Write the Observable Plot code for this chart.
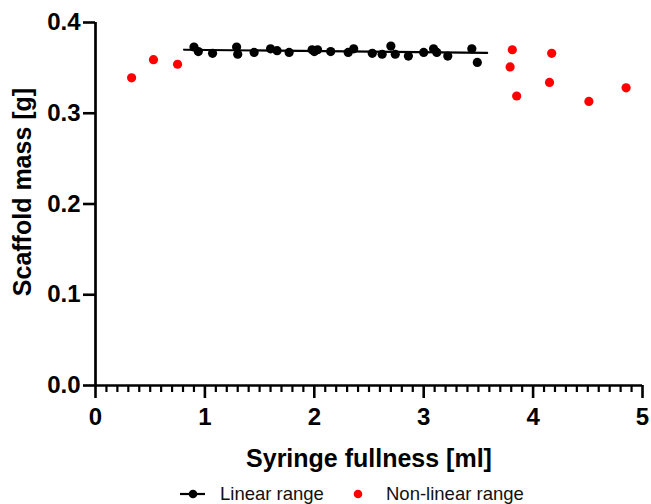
<!DOCTYPE html>
<html>
<head>
<meta charset="utf-8">
<script src="https://cdn.jsdelivr.net/npm/d3@7"></script>
<script src="https://cdn.jsdelivr.net/npm/@observablehq/plot@0.6"></script>
<style>
  html, body { margin: 0; padding: 0; background: white; }
  #chart { width: 651px; }
  #legend { position: relative; width: 651px; height: 26px; font-family: 'Liberation Sans', Arial, sans-serif; font-size: 18.5px; color: #111; }
  #legend .item { position: absolute; top: 0; height: 26px; line-height: 26px; white-space: nowrap; }
  #legend svg { position: absolute; top: 0; }
</style>
</head>
<body>
<div id="chart"></div>
<div id="legend"></div>
<script>
// ---- Data ----
// Linear range (black)
const linX = [0.90, 0.94, 1.07, 1.29, 1.30, 1.45, 1.60, 1.66, 1.77, 1.98, 2.00, 2.03, 2.15, 2.31, 2.36, 2.53, 2.62, 2.70, 2.74, 2.86, 3.00, 3.09, 3.12, 3.22, 3.44, 3.49];
const linY = [0.373, 0.368, 0.366, 0.373, 0.365, 0.367, 0.371, 0.369, 0.367, 0.370, 0.368, 0.370, 0.368, 0.367, 0.371, 0.366, 0.365, 0.374, 0.365, 0.363, 0.367, 0.371, 0.367, 0.363, 0.371, 0.356];
// Non-linear range (red)
const nonX = [0.33, 0.53, 0.75, 3.79, 3.81, 3.85, 4.15, 4.17, 4.51, 4.85];
const nonY = [0.339, 0.359, 0.354, 0.351, 0.370, 0.319, 0.334, 0.366, 0.313, 0.328];
// Fitted line (endpoints)
const fitX = [0.81, 3.58];
const fitY = [0.370, 0.3665];
// Ticks and labels
const xMajorTicks = [0, 1, 2, 3, 4, 5];
const yTicks = [0, 0.1, 0.2, 0.3, 0.4];
const xTitle = "Syringe fullness [ml]";
const yTitle = "Scaffold mass [g]";
const seriesNames = ["Linear range", "Non-linear range"];
const seriesColors = ["black", "#ff0000"];

const xMinorTicks = d3.range(0, 50).map(i => i / 10).filter(v => !xMajorTicks.includes(v));
const linData = linX.map((x, i) => ({x, y: linY[i]}));
const nonData = nonX.map((x, i) => ({x, y: nonY[i]}));
const fitData = fitX.map((x, i) => ({x, y: fitY[i]}));

const chart = Plot.plot({
  width: 651,
  height: 478,
  marginLeft: 95,
  marginRight: 9,
  marginTop: 22,
  marginBottom: 93,
  x: {domain: [0, 5], axis: null},
  y: {domain: [0, 0.4], axis: null},
  style: {fontFamily: "'Liberation Sans', Arial, sans-serif", fontWeight: "bold", fontSize: "24px", color: "black", background: "white"},
  marks: [
    Plot.axisX(xMinorTicks, {tickSize: 7, strokeWidth: 2.2, tickFormat: null, label: null, text: null}),
    Plot.axisX(xMajorTicks, {tickSize: 13, tickPadding: 9, strokeWidth: 2.6, tickFormat: d3.format("d"), label: null}),
    Plot.axisY(yTicks, {tickSize: 12, tickPadding: 3, strokeWidth: 2.6, tickFormat: d3.format(".1f"), label: null}),
    Plot.ruleY([0], {x1: 0, x2: 5, strokeWidth: 2.7}),
    Plot.ruleX([0], {y1: 0, y2: 0.4, strokeWidth: 2.7}),
    Plot.line(fitData, {x: "x", y: "y", stroke: seriesColors[0], strokeWidth: 2.2}),
    Plot.dot(linData, {x: "x", y: "y", r: 4.6, fill: seriesColors[0]}),
    Plot.dot(nonData, {x: "x", y: "y", r: 4.6, fill: seriesColors[1]}),
    Plot.text([xTitle], {frameAnchor: "bottom", dy: 73, textAnchor: "middle", lineAnchor: "middle", fontSize: 25, fontWeight: "bold"}),
    Plot.text([yTitle], {frameAnchor: "left", dx: -73, dy: -12, rotate: -90, textAnchor: "middle", lineAnchor: "middle", fontSize: 25, fontWeight: "bold"})
  ]
});
document.getElementById("chart").appendChild(chart);

// Legend
const legend = document.getElementById("legend");
const ns = "http://www.w3.org/2000/svg";
function sym(left, kind, color) {
  const s = document.createElementNS(ns, "svg");
  s.setAttribute("width", 30); s.setAttribute("height", 26);
  s.style.left = left + "px";
  if (kind === "line") {
    const l = document.createElementNS(ns, "line");
    l.setAttribute("x1", 2); l.setAttribute("x2", 27); l.setAttribute("y1", 16); l.setAttribute("y2", 16);
    l.setAttribute("stroke", color); l.setAttribute("stroke-width", 2.2);
    s.appendChild(l);
  }
  const c = document.createElementNS(ns, "circle");
  c.setAttribute("cx", 15); c.setAttribute("cy", 16); c.setAttribute("r", 4.3); c.setAttribute("fill", color);
  s.appendChild(c);
  legend.appendChild(s);
}
function label(left, text) {
  const d = document.createElement("div");
  d.className = "item"; d.style.left = left + "px"; d.style.top = "3px"; d.textContent = text;
  legend.appendChild(d);
}
sym(178, "line", seriesColors[0]);
label(220, seriesNames[0]);
sym(343, "dot", seriesColors[1]);
label(386, seriesNames[1]);
</script>
</body>
</html>
